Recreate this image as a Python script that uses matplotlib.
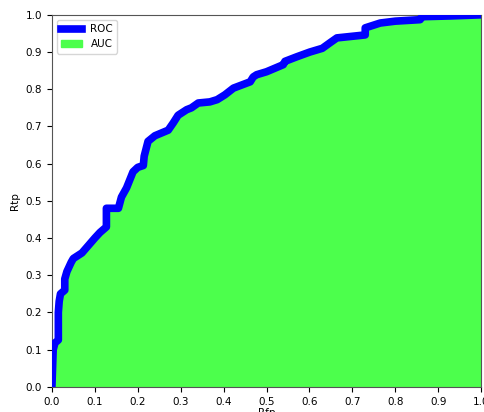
import numpy as np
import matplotlib.pyplot as plt

# puntos de la curva ROC
rfp = [0.0, 0.003, 0.007, 0.015, 0.015, 0.017, 0.02, 0.03, 0.03, 0.035, 0.045, 0.05,
       0.07, 0.085, 0.1, 0.112, 0.127, 0.127, 0.155, 0.162, 0.174, 0.189, 0.2, 0.213,
       0.215, 0.224, 0.24, 0.271, 0.283, 0.294, 0.314, 0.325, 0.341, 0.368, 0.385,
       0.403, 0.423, 0.462, 0.469, 0.477, 0.5, 0.539, 0.543, 0.57, 0.601, 0.63, 0.648,
       0.664, 0.73, 0.73, 0.765, 0.8, 0.858, 0.862, 0.928, 1.0]
rtp = [0.0, 0.1, 0.118, 0.126, 0.2, 0.23, 0.25, 0.26, 0.29, 0.31, 0.335, 0.345,
       0.36, 0.38, 0.4, 0.415, 0.43, 0.48, 0.48, 0.51, 0.535, 0.578, 0.59, 0.595,
       0.62, 0.66, 0.675, 0.69, 0.71, 0.73, 0.745, 0.75, 0.763, 0.766, 0.772,
       0.785, 0.803, 0.82, 0.833, 0.839, 0.847, 0.866, 0.875, 0.887, 0.9, 0.91, 0.925,
       0.938, 0.946, 0.965, 0.978, 0.983, 0.987, 0.995, 0.997, 1.0]

fig = plt.figure(figsize=(4.85, 4.12), dpi=100)
ax = fig.add_axes([0.107, 0.061, 0.885, 0.903])

ax.plot(rfp, rtp, color='blue', linewidth=5.5, label='ROC', zorder=3)
ax.fill_between(rfp, rtp, color='#4cff4c', label='AUC', zorder=2)

ax.set_xlim(0, 1)
ax.set_ylim(0, 1)
ax.set_xticks(np.arange(0, 1.01, 0.1))
ax.set_yticks(np.arange(0, 1.01, 0.1))
ax.tick_params(labelsize=7.5)
ax.set_xlabel('Rfp', fontsize=7.5, labelpad=1)
ax.set_ylabel('Rtp', fontsize=7.5)
for s in ax.spines.values():
    s.set_color('#555555')
ax.legend(loc='upper left', fontsize=7.5)

fig.savefig('out.png', dpi=100)
